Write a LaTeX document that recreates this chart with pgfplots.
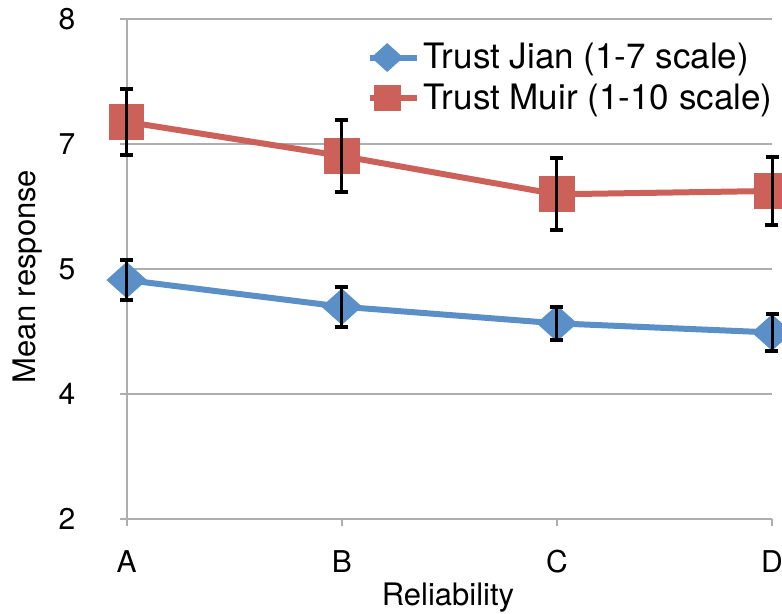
\documentclass[border=0pt]{standalone}
\usepackage{fontspec}
\setmainfont{TeX Gyre Heros}
\usepackage{pgfplots}
\usepackage{pgfplotstable}
\pgfplotsset{compat=1.18}

\definecolor{jian}{RGB}{91,143,200}
\definecolor{muir}{RGB}{204,97,89}
\definecolor{gridgray}{RGB}{174,174,174}

% mean response and half-width of the error bar for each reliability level
\pgfplotstableread{
x y e
0 4.87 0.237
1 4.55 0.240
2 4.35 0.200
3 4.24 0.225
}\jiantable

\pgfplotstableread{
x y e
0 6.77 0.394
1 6.36 0.432
2 5.90 0.430
3 5.94 0.410
}\muirtable

\begin{document}
\begin{tikzpicture}
\begin{axis}[
  x=107.55pt, y=41.625pt,
  xmin=0, xmax=3, ymin=2, ymax=8,
  clip=false, clip marker paths=true,
  axis x line=bottom, axis y line=left,
  axis line style={gridgray, line width=1pt, -},
  xtick={0,1,2,3}, xticklabels={A,B,C,D},
  ytick={2,3.5,5,6.5,8}, yticklabels={2,4,5,7,8},
  ymajorgrids, grid style={gridgray, line width=1pt},
  tick align=outside, major tick length=3.5pt,
  tick style={gridgray, line width=1pt},
  /pgf/number format/assume math mode=true,
  ticklabel style={font=\fontsize{15}{18}\selectfont},
  xticklabel style={anchor=north, inner sep=0pt, yshift=-12pt},
  yticklabel style={anchor=east, inner sep=0pt, xshift=-22pt},
  xlabel={Reliability},
  ylabel={Mean response},
  label style={font=\fontsize{15.5}{18}\selectfont, inner sep=0pt},
  xlabel style={at={(axis cs:1.494,2)}, anchor=north, yshift=-31.85pt},
  ylabel style={at={(axis cs:-0.5286,4.913)}, anchor=north},
  legend style={at={(axis cs:1.086,7.815)}, anchor=north west, draw=none, fill=none,
    font=\fontsize{17.5}{20}\selectfont, row sep=2pt},
  legend cell align=left,
  legend image code/.code={
    \path (0pt,0pt) -- (23.5pt,0pt);
    \draw[#1, mark=none] (0pt,0pt) -- (17.5pt,0pt);
    \draw[#1, draw=none, mark size=5.2pt] plot coordinates {(8.75pt,0pt)};
  },
  eb/.style={forget plot, draw=none, mark=none,
    error bars/.cd, y dir=both, y explicit,
    error bar style={draw=black, line width=1.5pt},
    error mark options={draw=black, line width=2pt, mark size=3.25pt, rotate=90}},
]
\addplot[jian, line width=3pt, mark=diamond*,
  mark options={solid, fill=jian, draw=none, xscale=1.48}, mark size=7.1pt]
  table[x=x, y=y] {\jiantable};
\addlegendentry{Trust Jian (1-7 scale)}
\addplot[muir, line width=3pt, mark=square*,
  mark options={solid, fill=muir, draw=none}, mark size=7.4pt]
  table[x=x, y=y] {\muirtable};
\addlegendentry{Trust Muir (1-10 scale)}

% error bars, drawn over the markers
\addplot[eb] table[x=x, y=y, y error=e] {\jiantable};
\addplot[eb] table[x=x, y=y, y error=e] {\muirtable};

\coordinate (bl) at (axis cs:-0.589,0.859);
\coordinate (tr) at (axis cs:3.0465,8.234);
\end{axis}
\pgfresetboundingbox
\useasboundingbox (bl) rectangle (tr);
\end{tikzpicture}
\end{document}
